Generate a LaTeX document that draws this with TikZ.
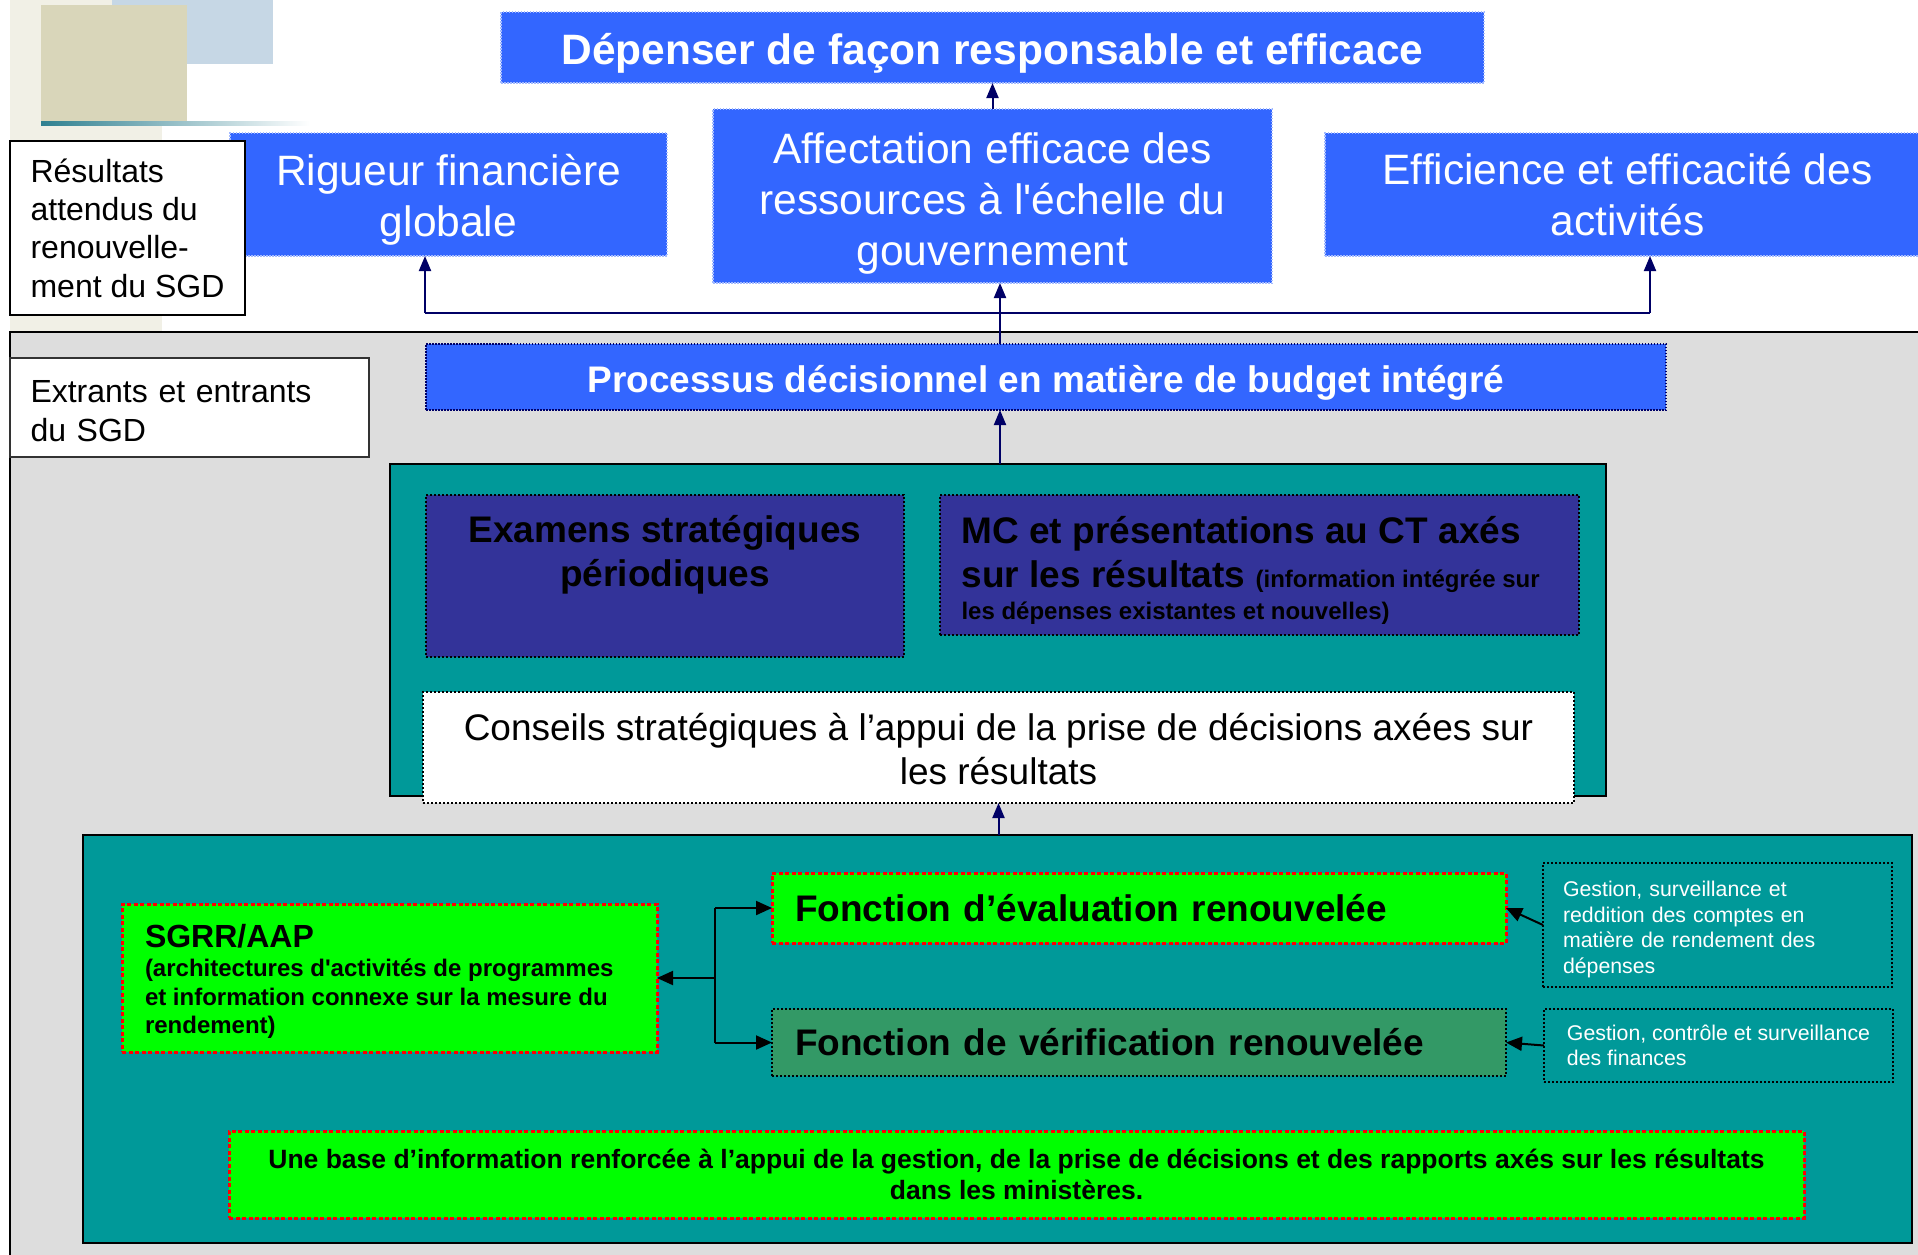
\documentclass[tikz,border=0pt]{standalone}
\usepackage{fontspec}
\setmainfont{Liberation Sans}
\usetikzlibrary{arrows.meta,calc}
\definecolor{blueT}{HTML}{3366FF}
\definecolor{navyT}{HTML}{000066}
\definecolor{tealT}{HTML}{009999}
\definecolor{purpT}{HTML}{333399}
\definecolor{greenT}{HTML}{00FF00}
\definecolor{dgreenT}{HTML}{339966}
\definecolor{greyT}{HTML}{DDDDDD}
\definecolor{beigeT}{HTML}{D9D6BA}
\definecolor{lblueT}{HTML}{C6D7E5}
\definecolor{creamT}{HTML}{F1F0E6}
\definecolor{decoteal}{HTML}{2F8090}
\newcommand\fsz[2]{\fontsize{#1}{#2}\selectfont}
\newcommand\lift[1]{\rule{0pt}{#1}}
\begin{document}
\begin{tikzpicture}[x=1pt,y=-1pt,
  box/.style={inner sep=0pt, outer sep=0pt, anchor=north west},
  bluebox/.style={box, fill=blueT, draw=blueT!45!white, line width=1.5pt, dash pattern=on 1.5pt off 1.5pt, text=white, align=center},
  dotbox/.style={box, draw=black, line width=1.5pt, dash pattern=on 2pt off 2pt},
  redbox/.style={box, fill=greenT, draw=red, line width=3pt, dash pattern=on 4pt off 2.5pt},
  panel/.style={box, draw=black, line width=2.5pt},
  navyline/.style={draw=navyT, line width=2pt},
  navyarr/.style={navyline, -{Triangle[length=15pt,width=12pt]}},
  blkline/.style={draw=black, line width=2pt},
  blkarr/.style={blkline, -{Triangle[length=16pt,width=14pt]}},
  txt/.style={inner sep=0pt, outer sep=0pt}
]
\useasboundingbox (0,0) rectangle (1918,1254);
\clip (0,0) rectangle (1918,1254);
\fill[white] (0,0) rectangle (1918,1254);
% decoration
\fill[creamT] (10,0) rectangle (162,333);
\fill[lblueT] (112,0) rectangle (273,64);
\fill[beigeT] (41,5) rectangle (187,122);
\shade[left color=decoteal, right color=white] (41,121) rectangle (310,125);

% top row
\node[bluebox, minimum width=983pt, minimum height=71pt, font=\bfseries\fsz{42.5}{51}] (title) at (501,12) {\lift{42pt}Dépenser de façon responsable et efficace};
\node[bluebox, minimum width=437pt, minimum height=123pt, font=\fsz{42.5}{51}] (rig) at (230,133) {\lift{42pt}Rigueur financière\\globale};
\node[bluebox, minimum width=559pt, minimum height=174pt, font=\fsz{42.5}{51}] (aff) at (713,109) {\lift{46pt}Affectation efficace des\\ressources à l\textquotesingle échelle du\\gouvernement};
\node[bluebox, minimum width=605pt, minimum height=123pt, font=\fsz{42.5}{51}] (eff) at (1325,133) {Efficience et efficacité des\\activités};
\node[box, draw=black, line width=2pt, fill=white, minimum width=235pt, minimum height=174pt, align=left, font=\fsz{32}{38.4}] (res) at (10,141) {Résultats\\attendus du\\renouvelle-\\ment du SGD};

% grey panel
\node[panel, fill=greyT, minimum width=1930pt, minimum height=940pt] (grey) at (10,332) {};
\node[box, draw=black!80, line width=1.5pt, fill=white, minimum height=99pt, text width=318pt, inner xsep=20.5pt, align=left, font=\fsz{32}{38.4}] (ext) at (10,358) {\lift{29pt}Extrants et entrants\\du SGD};

\node[bluebox, draw=navyT, minimum width=1240pt, minimum height=66pt, font=\bfseries\fsz{37}{44}] (proc) at (426,344) {\lift{38pt}Processus décisionnel en matière de budget intégré};

% upper teal panel
\node[panel, line width=2pt, fill=tealT, minimum width=1216pt, minimum height=332pt] (up) at (390,464) {};
\node[dotbox, fill=purpT, minimum width=478pt, minimum height=162pt] (exa) at (426,495) {};
\node[txt, align=center, font=\bfseries\fsz{37}{44}] (exat) at (665,555) {Examens stratégiques\\périodiques};
\node[dotbox, fill=purpT, minimum width=639pt, minimum height=140pt] (mc) at (940,495) {};
\node[txt, anchor=base west, font=\bfseries\fsz{37}{44}] (mc1) at (961.5,543) {MC et présentations au CT axés};
\node[txt, anchor=base west, font=\bfseries\fsz{37}{44}] (mc2) at (961.5,587) {sur les résultats {\fsz{24}{29}(information intégrée sur}};
\node[txt, anchor=base west, font=\bfseries\fsz{24}{29}] (mc3) at (961.5,619) {les dépenses existantes et nouvelles)};
\node[dotbox, fill=white, minimum width=1151pt, minimum height=111pt, align=center, font=\fsz{37}{44}] (cons) at (423,692) {\lift{30pt}Conseils stratégiques à l’appui de la prise de décisions axées sur\\les résultats};

% lower teal panel
\node[panel, fill=tealT, minimum width=1829pt, minimum height=408pt] (low) at (83,835) {};
\node[redbox, minimum width=535pt, minimum height=148pt] (sgrr) at (122,904) {};
\node[txt, anchor=base west, font=\bfseries\fsz{32}{38}] (sg1) at (145,947) {SGRR/AAP};
\node[txt, anchor=base west, font=\bfseries\fsz{24}{29}] (sg2) at (145,976.5) {(architectures d\textquotesingle activités de programmes};
\node[txt, anchor=base west, font=\bfseries\fsz{24}{29}] (sg3) at (145,1005) {et information connexe sur la mesure du};
\node[txt, anchor=base west, font=\bfseries\fsz{24}{29}] (sg4) at (145,1033) {rendement)};

\node[redbox, minimum height=70pt, text width=688pt, inner xsep=23pt, align=left, font=\bfseries\fsz{37}{44}] (eval) at (772,873) {Fonction d’évaluation renouvelée};
\node[dotbox, fill=dgreenT, minimum height=67pt, text width=688pt, inner xsep=23pt, align=left, font=\bfseries\fsz{37}{44}] (verif) at (772,1009) {Fonction de vérification renouvelée};

\node[dotbox, line width=2pt, minimum height=124pt, text width=309pt, inner xsep=20pt, align=left, text=white, font=\fsz{21.3}{25.5}] (g1) at (1543,863) {\lift{24pt}Gestion, surveillance et\\reddition des comptes en\\matière de rendement des\\dépenses};
\node[dotbox, line width=2pt, minimum width=349pt, minimum height=73pt, align=left, text=white, font=\fsz{21.3}{25.5}] (g2) at (1544,1009) {Gestion, contrôle et surveillance\\des finances};

\node[redbox, minimum width=1575pt, minimum height=87pt, align=center, font=\bfseries\fsz{26.5}{31}] (base) at (229,1131) {Une base d’information renforcée à l’appui de la gestion, de la prise de décisions et des rapports axés sur les résultats\\dans les ministères.};

% navy connectors
\coordinate (hub) at (1000,313);
\coordinate (lft) at (425,313);
\coordinate (rgt) at (1650,313);
\draw[navyarr] (aff.north) -- (title.south);
\draw[navyarr] (proc.north -| hub) -- (aff.south -| hub);
\draw[navyline] (lft) -- (rgt);
\draw[navyarr] (lft) -- (lft |- rig.south);
\draw[navyarr] (rgt) -- (rgt |- eff.south);
\draw[navyarr] (up.north -| hub) -- (proc.south -| hub);
\draw[navyarr] (low.north -| cons.south) -- (cons.south);

% black connectors
\coordinate (jn) at (715,978);
\draw[blkarr] (jn) -- (sgrr.east);
\draw[blkline] (jn |- eval.west) -- (jn |- verif.west);
\draw[blkarr] (jn |- eval.west) -- (eval.west);
\draw[blkarr] (jn |- verif.west) -- (verif.west);
\draw[blkarr] (g1.west) -- (eval.east);
\draw[blkarr] (g2.west) -- (verif.east);
\end{tikzpicture}
\end{document}
